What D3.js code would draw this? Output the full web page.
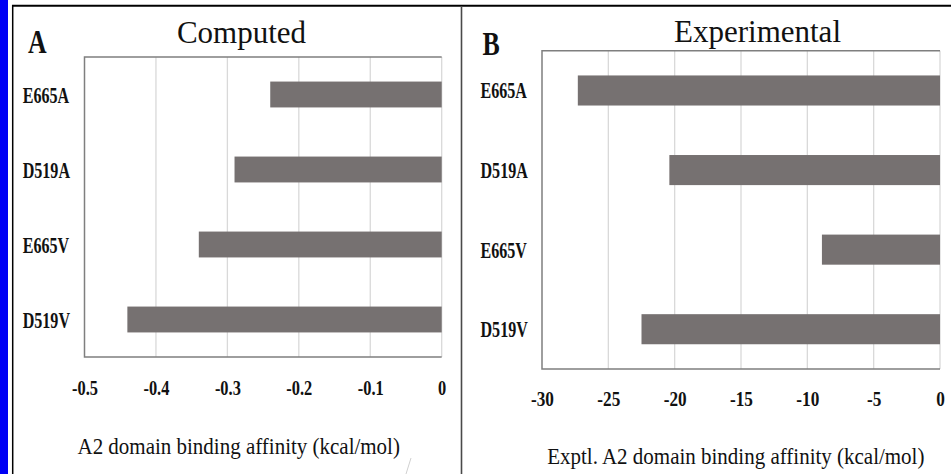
<!DOCTYPE html>
<html>
<head>
<meta charset="utf-8">
<script src="https://cdn.jsdelivr.net/npm/d3@7"></script>
<style>
  html, body { margin: 0; padding: 0; background: #fff; }
  svg { display: block; }
  svg text { font-family: 'Liberation Serif', 'DejaVu Serif', serif; }
</style>
</head>
<body>
<svg id="chart" width="951" height="474"></svg>
<script>
const categories = ['E665A', 'D519A', 'E665V', 'D519V']
const computed = [-0.24, -0.29, -0.34, -0.44]
const experimental = [-27.3, -20.4, -8.9, -22.5]
const computedTicks = [-0.5, -0.4, -0.3, -0.2, -0.1, 0]
const experimentalTicks = [-30, -25, -20, -15, -10, -5, 0]

const barColor = '#767171'
const gridColor = '#d9d9d9'
const frameColor = '#7f7f7f'

const svg = d3.select('#chart')

// page decorations: blue strip, black frame, divider
svg.append('rect').attr('x', 0).attr('y', 0).attr('width', 8).attr('height', 474).attr('fill', '#0000f5')
svg.append('line').attr('x1', 12.7).attr('x2', 12.7).attr('y1', 5).attr('y2', 474)
  .attr('stroke', '#000').attr('stroke-width', 1.5)
svg.append('line').attr('x1', 12).attr('x2', 951).attr('y1', 5.8).attr('y2', 5.8)
  .attr('stroke', '#000').attr('stroke-width', 2)
svg.append('line').attr('x1', 461.5).attr('x2', 461.5).attr('y1', 6).attr('y2', 474)
  .attr('stroke', '#4a4a4a').attr('stroke-width', 1.6)
svg.append('line').attr('x1', 411).attr('x2', 406).attr('y1', 458).attr('y2', 474)
  .attr('stroke', '#d0d0d0').attr('stroke-width', 1)

// text squeezed horizontally around its anchor point
function sText(g, x, y, str, sx) {
  return g.append('text')
    .attr('transform', `translate(${x},${y}) scale(${sx},1)`)
    .text(str)
}

const hyphen = (f) => (d) => f(d).replace('\u2212', '-')

const panels = [
  {
    letter: 'A', letterX: 28, letterY: 53,
    title: 'Computed', titleX: 241.5, titleY: 42.5,
    values: computed, ticks: computedTicks, fmt: hyphen(d3.format('~g')),
    x0: 84.5, x1: 441.7, y0: 57, y1: 357, pad: 0.655,
    labelX: 22.7, tickY: 395, tickSize: 20,
    axisTitle: 'A2 domain binding affinity (kcal/mol)', axisX: 238.7, axisY: 453.5,
  },
  {
    letter: 'B', letterX: 482.5, letterY: 55,
    title: 'Experimental', titleX: 757.5, titleY: 41.7,
    values: experimental, ticks: experimentalTicks, fmt: hyphen(d3.format('d')),
    x0: 542, x1: 940, y0: 50.7, y1: 369, pad: 0.622,
    labelX: 480.5, tickY: 405.5, tickSize: 21,
    axisTitle: 'Exptl. A2 domain binding affinity (kcal/mol)', axisX: 735.8, axisY: 463.5,
  },
]

panels.forEach((p) => {
  const g = svg.append('g')
  const x = d3.scaleLinear().domain(d3.extent(p.ticks)).range([p.x0, p.x1])
  const y = d3.scaleBand().domain(categories).range([p.y0, p.y1])
    .paddingInner(p.pad).paddingOuter(p.pad / 2)

  // gridlines
  g.append('g').selectAll('line')
    .data(p.ticks.slice(1))
    .join('line')
    .attr('x1', (d) => x(d)).attr('x2', (d) => x(d))
    .attr('y1', p.y0).attr('y2', p.y1)
    .attr('stroke', gridColor).attr('stroke-width', 1.3)

  // bars
  g.append('g').selectAll('rect')
    .data(categories)
    .join('rect')
    .attr('x', (d, i) => x(p.values[i]))
    .attr('y', (d) => y(d))
    .attr('width', (d, i) => x(0) - x(p.values[i]))
    .attr('height', y.bandwidth())
    .attr('fill', barColor)

  // plot frame: top, left, bottom
  g.append('path')
    .attr('d', `M${x(0)},${p.y0}H${p.x0}V${p.y1}H${x(0)}`)
    .attr('fill', 'none').attr('stroke', frameColor).attr('stroke-width', 1.5)

  // category labels
  const lab = g.append('g').attr('font-weight', 'bold').attr('font-size', 24).attr('fill', '#111')
  categories.forEach((c) => {
    sText(lab, p.labelX, y(c) + y.bandwidth() / 2 + 8, c, 0.67)
  })

  // x axis tick labels
  const axis = d3.axisBottom(x).tickValues(p.ticks).tickFormat(p.fmt).tickSize(0)
  const ax = g.append('g').attr('transform', `translate(0,${p.tickY})`).call(axis)
  ax.attr('font-family', null)
  ax.select('.domain').remove()
  ax.selectAll('text')
    .attr('y', 0).attr('dy', 0)
    .attr('font-weight', 'bold').attr('font-size', p.tickSize).attr('fill', '#111')
    .attr('transform', 'scale(0.82,1)')

  // panel letter and title
  sText(g, p.letterX, p.letterY, p.letter, 0.76)
    .attr('font-weight', 'bold').attr('font-size', 34).attr('fill', '#111')
  g.append('text').attr('x', p.titleX).attr('y', p.titleY)
    .attr('text-anchor', 'middle').attr('font-size', 31).attr('fill', '#111')
    .text(p.title)

  // axis title
  sText(g, p.axisX, p.axisY, p.axisTitle, 0.875)
    .attr('text-anchor', 'middle').attr('font-size', 24).attr('fill', '#111')
})
</script>
</body>
</html>
